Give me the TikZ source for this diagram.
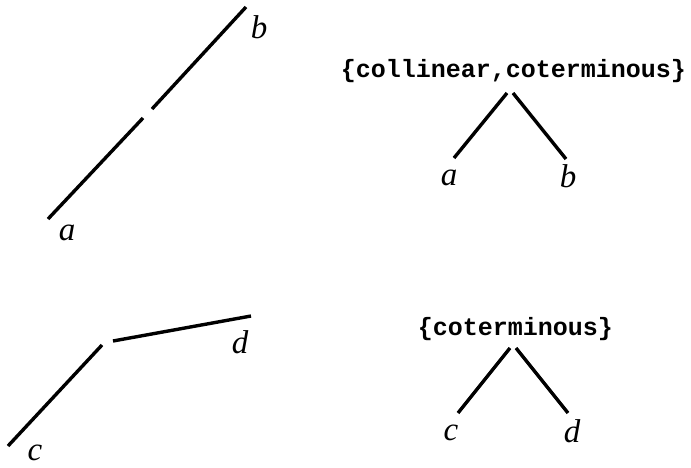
\documentclass[tikz,border=0pt]{standalone}
\usepackage{fontspec}
\setmainfont{Liberation Serif}
\setmonofont{Liberation Mono}
\usetikzlibrary{positioning}

\begin{document}
\begin{tikzpicture}[x=1pt, y=-1pt,
    seg/.style={line width=3.4pt},
    leaf/.style={font=\fontsize{33}{33}\selectfont\itshape, inner sep=0pt},
    relset/.style={font=\fontsize{25}{25}\selectfont\ttfamily\bfseries, inner sep=0pt, anchor=base}
]
    \useasboundingbox (0,0) rectangle (691,467);

    % collinear segments
    \coordinate (a0) at (48,219);
    \coordinate (a1) at (143,118);
    \coordinate (b0) at (152,109);
    \coordinate (b1) at (246,7);
    \draw[seg] (a0) -- (a1);
    \draw[seg] (b0) -- (b1);
    \node[leaf] (la) at (67,233) {a};
    \node[leaf] (lb) at (259,27) {b};

    % coterminous segments
    \coordinate (c0) at (8,446);
    \coordinate (c1) at (102,345);
    \coordinate (d0) at (113,341);
    \coordinate (d1) at (251,316);
    \draw[seg] (c0) -- (c1);
    \draw[seg] (d0) -- (d1);
    \node[leaf] (lc) at (35,453) {c};
    \node[leaf] (ld) at (240,342) {d};

    % tree for a, b
    \node[relset] (rab) at (513.5,77) {\{collinear,coterminous\}};
    \node[leaf] (ta) at (449,178) {a};
    \node[leaf] (tb) at (568,176) {b};
    \coordinate (rab-l) at (507,93);
    \coordinate (rab-r) at (513,93);
    \coordinate (ta-t) at (454,158);
    \coordinate (tb-t) at (566,159);
    \draw[seg] (rab-l) -- (ta-t);
    \draw[seg] (rab-r) -- (tb-t);

    % tree for c, d
    \node[relset] (rcd) at (515.5,335) {\{coterminous\}};
    \node[leaf] (tc) at (451,433) {c};
    \node[leaf] (td) at (572,431) {d};
    \coordinate (rcd-l) at (510,348);
    \coordinate (rcd-r) at (516,348);
    \coordinate (tc-t) at (458,413);
    \coordinate (td-t) at (568,413);
    \draw[seg] (rcd-l) -- (tc-t);
    \draw[seg] (rcd-r) -- (td-t);
\end{tikzpicture}
\end{document}
